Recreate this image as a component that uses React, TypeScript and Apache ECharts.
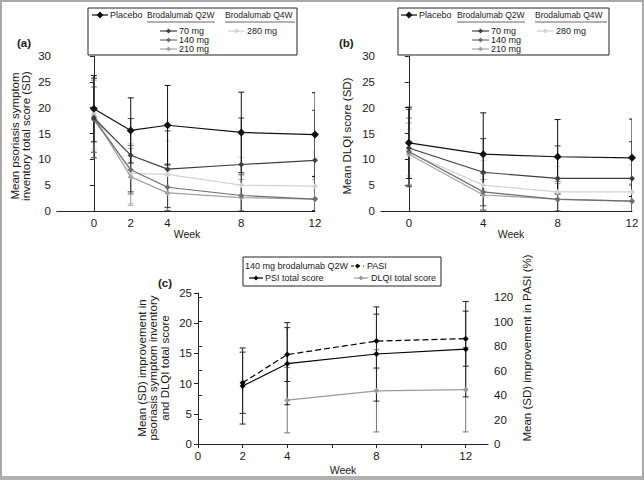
import React, { useEffect, useRef } from 'react';
import * as echarts from 'echarts';

// ---------- Data ----------
// Panel (a): PSI total score by week
const weeksA = [0, 2, 4, 8, 12];
const psiPlacebo = [19.8, 15.6, 16.6, 15.2, 14.8];
const psiPlaceboSD = [6.4, 6.3, 7.7, 7.8, 8.1];
const psi70 = [18.0, 10.8, 8.1, 9.0, 9.8];
const psi70SD = [7.7, 7.1, 7.4, 9.0, 9.7];
const psi140 = [17.7, 8.0, 4.6, 3.0, 2.3];
const psi140SD = [6.3, 4.7, 4.5, 4.0, 4.3];
const psi210 = [18.3, 6.6, 3.5, 2.6, 2.3];
const psi210SD = [7.0, 5.5, 3.5, 3.5, 3.8];
const psi280 = [18.8, 7.3, 7.1, 5.0, 4.8];
const psi280SD = [6.8, 5.8, 6.5, 5.4, 6.6];

// Panel (b): DLQI score by week
const weeksB = [0, 4, 8, 12];
const dlqiPlacebo = [13.2, 11.0, 10.5, 10.3];
const dlqiPlaceboSD = [6.9, 8.0, 7.2, 7.5];
const dlqi70 = [12.2, 7.5, 6.3, 6.3];
const dlqi70SD = [7.5, 6.5, 6.3, 7.1];
const dlqi140 = [11.5, 3.7, 2.25, 1.9];
const dlqi140SD = [6.5, 3.5, 3.5, 3.3];
const dlqi210 = [11.0, 3.1, 2.3, 1.9];
const dlqi210SD = [6.0, 3.0, 3.0, 3.0];
const dlqi280 = [11.3, 5.0, 3.7, 3.7];
const dlqi280SD = [4.5, 4.8, 4.9, 5.2];

// Panel (c): improvement with 140 mg brodalumab Q2W
const weeksC = [2, 4, 8, 12];
const weeksCDlqi = [4, 8, 12];
const psiImp = [9.6, 13.3, 14.9, 15.7];
const psiImpSD = [6.3, 6.8, 7.8, 7.9];
const pasiImp = [50, 73, 84, 86];
const pasiImpSD = [25, 22, 22, 22.5];
const dlqiImp = [7.25, 8.8, 9.0];
const dlqiImpSD = [5.4, 6.8, 7.0];

// Tick labels
const ticksA = [0, 2, 4, 8, 12];
const ticksB = [0, 4, 8, 12];
const ticksC = [0, 2, 4, 8, 12];
const tickMarksC = [0, 2, 4, 6, 8, 10, 12];
const ticksRight = [0, 20, 40, 60, 80, 100, 120];

// ---------- Styling ----------
const FONT = 'Liberation Sans, Arial, Helvetica, sans-serif';
const TXT = '#1a1a1a';
const C_PLA = '#111111';
const C_70 = '#3e3e3e';
const C_140 = '#6e6e6e';
const C_210 = '#a2a2a2';
const C_280 = '#d2d2d2';
const C_DLQI = '#9a9a9a';
const TICK_FS = 11.5;
const TITLE_FS = 11.5;
const LEG_FS = 9;

function pts(xs: number[], ys: number[]) {
  return xs.map((x, i) => [x, ys[i]]);
}

function lineSeries(name: string, xi: number, yi: number, xs: number[], ys: number[], color: string, size: number, z: number, dashed = false) {
  return {
    type: 'line',
    name,
    xAxisIndex: xi,
    yAxisIndex: yi,
    data: pts(xs, ys),
    symbol: 'diamond',
    symbolSize: size,
    showSymbol: true,
    itemStyle: { color },
    lineStyle: { color, width: 1.2, type: dashed ? [6, 3] : 'solid' },
    z,
    silent: true,
    clip: false,
  };
}

function errSeries(xi: number, yi: number, xs: number[], ys: number[], sds: number[], color: string, z: number) {
  return {
    type: 'custom',
    xAxisIndex: xi,
    yAxisIndex: yi,
    z,
    silent: true,
    clip: true,
    data: xs.map((x, i) => [x, ys[i] - sds[i], ys[i] + sds[i]]),
    encode: { x: 0, y: [1, 2] },
    renderItem: (_params: any, api: any) => {
      const x = api.value(0);
      const lo = api.value(1);
      const hi = api.value(2);
      const p1 = api.coord([x, hi]);
      const p2 = api.coord([x, lo]);
      const w = 3;
      const st = { stroke: color, lineWidth: 1 };
      return {
        type: 'group',
        children: [
          { type: 'line', shape: { x1: p1[0], y1: p1[1], x2: p2[0], y2: p2[1] }, style: st },
          { type: 'line', shape: { x1: p1[0] - w, y1: p1[1], x2: p1[0] + w, y2: p1[1] }, style: st },
          { type: 'line', shape: { x1: p2[0] - w, y1: p2[1], x2: p2[0] + w, y2: p2[1] }, style: st },
        ],
      };
    },
  };
}

function txt(x: number, y: number, text: string, size: number, opts: any = {}) {
  return {
    type: 'text',
    x,
    y,
    rotation: opts.rotation || 0,
    z: 50,
    silent: true,
    style: {
      text,
      fontSize: size,
      fontFamily: FONT,
      fontWeight: opts.bold ? 'bold' : 'normal',
      fill: TXT,
      align: opts.align || 'left',
      textAlign: opts.align || 'left',
      verticalAlign: 'middle',
      textVerticalAlign: 'middle',
      lineHeight: opts.lineHeight || size * 1.15,
    },
  };
}

function diamond(cx: number, cy: number, s: number, color: string) {
  const h = s / 2;
  return {
    type: 'polygon',
    z: 51,
    silent: true,
    shape: { points: [[cx, cy - h], [cx + h, cy], [cx, cy + h], [cx - h, cy]] },
    style: { fill: color },
  };
}

function legendItem(x1: number, x2: number, y: number, color: string, size: number, label: string, tx: number, dashed = false) {
  return [
    {
      type: 'line',
      z: 50,
      silent: true,
      shape: { x1, y1: y, x2, y2: y },
      style: { stroke: color, lineWidth: 1.2, lineDash: dashed ? [3, 3] : null },
    },
    diamond((x1 + x2) / 2, y, size, color),
    txt(tx, y, label, LEG_FS),
  ];
}

function box(x: number, y: number, w: number, h: number) {
  return {
    type: 'rect',
    z: 49,
    silent: true,
    shape: { x, y, width: w, height: h },
    style: { fill: '#fff', stroke: '#222', lineWidth: 1 },
  };
}

function hline(x1: number, x2: number, y: number, color = '#444') {
  return { type: 'line', z: 50, silent: true, shape: { x1, y1: y, x2, y2: y }, style: { stroke: color, lineWidth: 1 } };
}

function doseLegend(bx: number, bw: number, o: { pla: number; q2: number; q2w: number; q4: number; q4w: number; d: number; d280: number }) {
  return [
    box(bx, 8, bw, 47),
    ...legendItem(o.pla, o.pla + 16, 15, C_PLA, 7, 'Placebo', o.pla + 18),
    txt(o.q2, 15, 'Brodalumab Q2W', 8.5),
    hline(o.q2, o.q2 + o.q2w, 22, '#666'),
    txt(o.q4, 15, 'Brodalumab Q4W', 8.5),
    hline(o.q4, o.q4 + o.q4w, 22, '#666'),
    ...legendItem(o.d, o.d + 17, 31, C_70, 5, '70 mg', o.d + 19),
    ...legendItem(o.d, o.d + 17, 40, C_140, 5, '140 mg', o.d + 19),
    ...legendItem(o.d, o.d + 17, 49, C_210, 5, '210 mg', o.d + 19),
    ...legendItem(o.d280, o.d280 + 17, 31, C_280, 5, '280 mg', o.d280 + 19),
  ];
}

function valueYAxis(gridIndex: number, max: number, interval: number, extra: any = {}) {
  return {
    type: 'value',
    gridIndex,
    min: 0,
    max,
    interval,
    axisLine: { show: true, lineStyle: { color: '#222', width: 1 } },
    axisTick: { show: true, length: 4, lineStyle: { color: '#222' } },
    axisLabel: { color: TXT, fontSize: TICK_FS, fontFamily: FONT, margin: 6 },
    splitLine: { show: false },
    ...extra,
  };
}

function weekXAxis(gridIndex: number, min: number, max: number, labels: number[], ticks: number[] | null) {
  return {
    type: 'value',
    gridIndex,
    min,
    max,
    axisLine: { show: true, onZero: false, lineStyle: { color: '#222', width: 1 } },
    axisTick: ticks ? { show: true, length: 4, customValues: ticks, lineStyle: { color: '#222' } } : { show: false },
    axisLabel: { color: TXT, fontSize: TICK_FS, fontFamily: FONT, margin: 6, customValues: labels },
    splitLine: { show: false },
  };
}

export default function App() {
  const ref = useRef<HTMLDivElement>(null);

  useEffect(() => {
    document.body.style.margin = '0';
    if (!ref.current) return;
    const chart = echarts.init(ref.current, null, { renderer: 'svg' });

    const option: any = {
      animation: false,
      backgroundColor: '#ffffff',
      textStyle: { fontFamily: FONT },
      grid: [
        { left: 57, top: 56, width: 258, height: 155, outerBoundsMode: 'none' },
        { left: 381, top: 56, width: 251, height: 155, outerBoundsMode: 'none' },
        { left: 198, top: 293, width: 290, height: 151, outerBoundsMode: 'none' },
        { left: 198, top: 297, width: 290, height: 147, outerBoundsMode: 'none' },
      ],
      xAxis: [
        weekXAxis(0, -2, 12, ticksA, null),
        weekXAxis(1, -1.5, 12, ticksB, null),
        weekXAxis(2, 0, 13, ticksC, tickMarksC),
        { ...weekXAxis(3, 0, 13, ticksC, null), show: false },
      ],
      yAxis: [
        valueYAxis(0, 30, 5),
        valueYAxis(1, 30, 5),
        valueYAxis(2, 25, 5),
        valueYAxis(3, 120, 20, {
          position: 'right',
          axisLabel: { color: TXT, fontSize: TICK_FS, fontFamily: FONT, margin: 6, customValues: ticksRight },
        }),
      ],
      series: [
        // Panel (a)
        errSeries(0, 0, weeksA, psi280, psi280SD, C_280, 1),
        errSeries(0, 0, weeksA, psi210, psi210SD, C_210, 2),
        errSeries(0, 0, weeksA, psi140, psi140SD, C_140, 3),
        errSeries(0, 0, weeksA, psi70, psi70SD, C_70, 4),
        errSeries(0, 0, weeksA, psiPlacebo, psiPlaceboSD, C_PLA, 5),
        lineSeries('280 mg', 0, 0, weeksA, psi280, C_280, 6, 11),
        lineSeries('210 mg', 0, 0, weeksA, psi210, C_210, 6, 12),
        lineSeries('140 mg', 0, 0, weeksA, psi140, C_140, 6, 13),
        lineSeries('70 mg', 0, 0, weeksA, psi70, C_70, 6, 14),
        lineSeries('Placebo', 0, 0, weeksA, psiPlacebo, C_PLA, 8, 15),
        // Panel (b)
        errSeries(1, 1, weeksB, dlqi280, dlqi280SD, C_280, 1),
        errSeries(1, 1, weeksB, dlqi210, dlqi210SD, C_210, 2),
        errSeries(1, 1, weeksB, dlqi140, dlqi140SD, C_140, 3),
        errSeries(1, 1, weeksB, dlqi70, dlqi70SD, C_70, 4),
        errSeries(1, 1, weeksB, dlqiPlacebo, dlqiPlaceboSD, C_PLA, 5),
        lineSeries('280 mg', 1, 1, weeksB, dlqi280, C_280, 6, 11),
        lineSeries('210 mg', 1, 1, weeksB, dlqi210, C_210, 6, 12),
        lineSeries('140 mg', 1, 1, weeksB, dlqi140, C_140, 6, 13),
        lineSeries('70 mg', 1, 1, weeksB, dlqi70, C_70, 6, 14),
        lineSeries('Placebo', 1, 1, weeksB, dlqiPlacebo, C_PLA, 8, 15),
        // Panel (c)
        errSeries(2, 2, weeksCDlqi, dlqiImp, dlqiImpSD, '#777', 3),
        errSeries(2, 2, weeksC, psiImp, psiImpSD, '#222', 4),
        errSeries(3, 3, weeksC, pasiImp, pasiImpSD, '#222', 5),
        lineSeries('DLQI total score', 2, 2, weeksCDlqi, dlqiImp, C_DLQI, 6, 12),
        lineSeries('PSI total score', 2, 2, weeksC, psiImp, '#000', 6, 13),
        lineSeries('PASI', 3, 3, weeksC, pasiImp, '#000', 6, 14, true),
      ],
      graphic: [
        // figure frame
        {
          type: 'rect',
          z: 60,
          silent: true,
          shape: { x: 1, y: 1, width: 642, height: 476 },
          style: { fill: 'none', stroke: '#a8a8a8', lineWidth: 2 },
        },
        {
          type: 'rect',
          z: 60,
          silent: true,
          shape: { x: 0, y: 476, width: 644, height: 4 },
          style: { fill: '#b0b0b0' },
        },
        // panel titles
        txt(17, 43, '(a)', 11.5, { bold: true }),
        txt(339, 43, '(b)', 11.5, { bold: true }),
        txt(158, 283, '(c)', 11.5, { bold: true }),
        // axis titles
        txt(20, 136, 'Mean psoriasis symptom\ninventory total score (SD)', TITLE_FS, { rotation: Math.PI / 2, align: 'center', lineHeight: 11 }),
        txt(347, 136, 'Mean DLQI score (SD)', TITLE_FS, { rotation: Math.PI / 2, align: 'center' }),
        txt(153, 368, 'Mean (SD) improvement in\npsoriasis symptom inventory\nand DLQI total score', TITLE_FS, { rotation: Math.PI / 2, align: 'center', lineHeight: 11.5 }),
        txt(527, 348, 'Mean (SD) improvement in PASI (%)', TITLE_FS, { rotation: Math.PI / 2, align: 'center' }),
        txt(187, 234, 'Week', 10.5, { align: 'center' }),
        txt(511, 234, 'Week', 10.5, { align: 'center' }),
        txt(343, 470, 'Week', 10.5, { align: 'center' }),
        // legends (a) and (b)
        ...doseLegend(88, 209, { pla: 92, q2: 147, q2w: 68, q4: 225, q4w: 70, d: 160, d280: 228 }),
        ...doseLegend(398, 211, { pla: 401, q2: 457, q2w: 68, q4: 535, q4w: 72, d: 472, d280: 537 }),
        // legend (c)
        box(243, 257, 198, 29),
        txt(245, 266, '140 mg brodalumab Q2W', LEG_FS),
        ...legendItem(351, 364, 266, '#000', 5, 'PASI', 367, true),
        ...legendItem(249, 263, 278, '#000', 5, 'PSI total score', 265),
        ...legendItem(354, 368, 278, C_DLQI, 5, 'DLQI total score', 371),
      ],
    };

    chart.setOption(option);
    return () => chart.dispose();
  }, []);

  return <div ref={ref} style={{ width: 644, height: 480 }} />;
}
